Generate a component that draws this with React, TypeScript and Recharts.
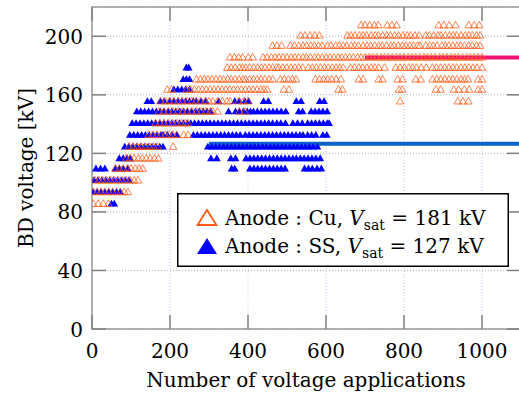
import React from 'react';
import {
  ScatterChart,
  Scatter,
  XAxis,
  YAxis,
  CartesianGrid,
  ReferenceLine,
  ReferenceArea,
  Legend,
} from 'recharts';

// ---- data ----
const xTicks = [0, 200, 400, 600, 800, 1000];
const yTicks = [0, 40, 80, 120, 160, 200];

// Anode Cu (orange hollow triangles): voltage levels and the application numbers at each level
const cuLevels = [208, 201, 194, 186, 179, 171, 164, 156, 149, 141, 133, 125, 117, 110, 102, 94, 86];
const cuXs: number[][] = [
  [690, 700, 712, 724, 734, 757, 769, 781, 889, 902, 916, 932, 966, 980, 993],
  [535, 546, 559, 571, 583, 655, 664, 674, 686, 695, 704, 716, 726, 734, 745, 756, 765, 776, 786, 797, 808, 817, 828, 839, 856, 865, 876, 887, 895, 906, 917, 926, 935, 946, 957, 966, 975, 986, 995],
  [463, 474, 486, 509, 519, 530, 541, 550, 561, 570, 581, 590, 604, 613, 625, 634, 644, 653, 665, 674, 683, 695, 705, 714, 725, 735, 744, 755, 766, 774, 785, 796, 805, 815, 824, 835, 841, 856, 866, 875, 885, 897, 906, 915, 925, 936, 945, 955, 966, 975, 986, 995],
  [354, 365, 376, 386, 401, 412, 439, 449, 460, 470, 479, 490, 500, 511, 520, 530, 541, 550, 560, 571, 580, 590, 601, 610, 620, 631, 640, 650, 660, 670, 681, 690, 700, 711, 720, 730, 741, 750, 760, 770, 781, 790, 800, 811, 820, 830, 840, 851, 860, 870, 880, 891, 900, 910, 921, 930, 940, 950, 961, 970, 980, 990, 1000],
  [347, 357, 367, 378, 386, 394, 404, 414, 425, 434, 444, 454, 463, 473, 479, 489, 499, 510, 520, 530, 540, 555, 565, 575, 586, 596, 606, 616, 626, 635, 644, 663, 673, 684, 694, 705, 716, 725, 735, 750, 779, 790, 801, 812, 822, 832, 844, 857, 873, 883, 894, 904, 915, 925, 935, 946, 956, 966, 977, 987, 1000],
  [268, 278, 288, 297, 307, 318, 328, 337, 348, 357, 367, 377, 387, 394, 404, 414, 424, 433, 443, 454, 463, 483, 493, 504, 514, 523, 573, 583, 594, 604, 614, 626, 638, 684, 695, 735, 745, 784, 796, 830, 843, 873, 884, 894, 905, 915, 925, 935, 946, 955, 964, 990, 1000],
  [193, 204, 243, 253, 263, 273, 283, 293, 303, 313, 323, 333, 343, 353, 363, 373, 383, 393, 403, 413, 423, 433, 441, 449, 492, 505, 632, 642, 787, 795, 882, 894, 928, 940, 955, 967, 990, 1000],
  [176, 188, 198, 210, 222, 232, 244, 256, 266, 278, 290, 300, 310, 322, 334, 346, 354, 376, 388, 400, 790, 938, 951, 965],
  [172, 184, 196, 208, 220, 232, 244, 256, 268, 280, 292, 303, 310, 322, 378, 392],
  [163, 174, 185, 196, 207, 218, 229, 239, 246],
  [145, 155, 166, 176, 188, 198, 208, 218, 235, 246],
  [95, 106, 116, 127, 137, 148, 158, 168, 208],
  [88, 98, 108, 119, 129, 139, 149, 160, 170],
  [60, 70, 80, 91, 100, 111, 121, 130],
  [8, 18, 28, 38, 48, 58, 68, 78, 88, 98, 108, 118],
  [3, 13, 23, 33, 43, 53, 63, 73, 83, 92],
  [3, 16, 29, 42],
];

// Anode SS (blue filled triangles)
const ssLevels = [179, 171, 164, 156, 149, 141, 133, 125, 117, 110, 102, 94, 86];
const ssXs: number[][] = [
  [242, 248],
  [234, 242, 250],
  [210, 220, 230, 240, 250],
  [142, 152, 175, 185, 200, 210, 220, 230, 240, 250, 260, 268, 280, 292, 325, 366, 378, 392, 402, 440, 452, 524, 536, 584, 595],
  [115, 125, 135, 145, 155, 165, 175, 185, 195, 205, 215, 225, 235, 245, 255, 265, 275, 285, 295, 305, 350, 368, 378, 388, 398, 406, 414, 424, 434, 444, 454, 464, 474, 485, 497, 530, 540, 562, 572, 582, 592, 603],
  [103, 113, 123, 133, 143, 153, 163, 174, 184, 194, 204, 214, 224, 234, 244, 253, 263, 273, 283, 293, 303, 313, 323, 333, 343, 353, 363, 373, 383, 393, 403, 413, 423, 433, 443, 453, 463, 474, 484, 496, 515, 527, 539, 553, 563, 573, 583, 593, 603, 608],
  [97, 107, 117, 127, 137, 147, 157, 167, 177, 182, 193, 205, 217, 260, 270, 280, 290, 300, 310, 320, 330, 340, 350, 360, 370, 380, 393, 403, 413, 423, 433, 443, 453, 463, 473, 483, 493, 503, 513, 523, 533, 541, 553, 563, 574, 592, 602],
  [84, 94, 104, 114, 124, 134, 144, 154, 164, 174, 182, 297, 307, 317, 327, 337, 347, 357, 367, 377, 387, 397, 407, 417, 427, 437, 447, 457, 467, 477, 487, 497, 507, 517, 527, 537, 547, 557, 567, 578],
  [70, 80, 90, 98, 305, 320, 356, 368, 395, 405, 415, 425, 435, 445, 455, 465, 475, 485, 495, 505, 515, 524, 534, 544, 554, 564, 574, 585],
  [10, 22, 33, 60, 70, 80, 92, 358, 366, 405, 415, 425, 435, 445, 455, 465, 475, 485, 495, 545, 555, 565, 577, 588],
  [5, 15, 25, 35, 45, 55, 65, 75, 85, 95],
  [3, 13, 23, 33, 43, 53, 63, 72],
  [50, 57],
];

// Saturation lines
const cuSat = { level: 185.5, from: 700, to: 1100, label: 181 };
const ssSat = { level: 126.5, from: 300, to: 1100, label: 127 };

const cuData = cuLevels.flatMap((y, i) => cuXs[i].map((x) => ({ x, y })));
const ssData = ssLevels.flatMap((y, i) => ssXs[i].map((x) => ({ x, y })));

// ---- style ----
const FONT = '"DejaVu Serif", serif';
const ORANGE = '#ff5a14';
const BLUE = '#0000ff';
const PINK = '#f2146e';
const LINEBLUE = '#0a64c8';
const TICK = '#808080';
const PLOT_TOP = 7;
const PLOT_BOTTOM = 329;
const PLOT_LEFT = 92;
const PLOT_RIGHT = 521;

const CuShape = (props: any) => {
  const { cx, cy } = props;
  if (cx == null || cy == null) return null;
  return (
    <path
      d={`M${cx},${cy - 3.3} L${cx + 3.8},${cy + 3.3} L${cx - 3.8},${cy + 3.3} Z`}
      fill="none"
      stroke={ORANGE}
      strokeOpacity={0.75}
      strokeWidth={1}
    />
  );
};

const SsShape = (props: any) => {
  const { cx, cy } = props;
  if (cx == null || cy == null) return null;
  return (
    <path
      d={`M${cx},${cy - 3.4} L${cx + 3.9},${cy + 3.4} L${cx - 3.9},${cy + 3.4} Z`}
      fill={BLUE}
      stroke="none"
    />
  );
};

const XTick = (props: any) => {
  const { x, payload } = props;
  return (
    <g>
      <line x1={x} x2={x} y1={PLOT_BOTTOM} y2={PLOT_BOTTOM - 14} stroke={TICK} strokeWidth={1.5} />
      <line x1={x} x2={x} y1={PLOT_TOP} y2={PLOT_TOP + 14} stroke={TICK} strokeWidth={1.5} />
      <text x={x} y={358} textAnchor="middle" fontFamily={FONT} fontSize={20} fill="#000">
        {payload.value}
      </text>
    </g>
  );
};

const YTick = (props: any) => {
  const { y, payload } = props;
  return (
    <g>
      <line x1={PLOT_LEFT} x2={PLOT_LEFT + 14} y1={y} y2={y} stroke={TICK} strokeWidth={1.5} />
      <line x1={PLOT_RIGHT} x2={PLOT_RIGHT - 14} y1={y} y2={y} stroke={TICK} strokeWidth={1.5} />
      <text x={83} y={y + 7.5} textAnchor="end" fontFamily={FONT} fontSize={20} fill="#000">
        {payload.value}
      </text>
    </g>
  );
};

const LegendBox = () => (
  <svg width={332} height={74} style={{ display: 'block' }}>
    <rect x={0.75} y={0.75} width={330.5} height={72.5} fill="#fff" stroke="#000" strokeWidth={1.5} />
    <path d="M30,17 L39.5,32 L20.5,32 Z" fill="none" stroke={ORANGE} strokeWidth={1.8} />
    <path d="M30,45 L40,61 L20,61 Z" fill={BLUE} />
    <text x={48} y={32} fontFamily={FONT} fontSize={20} fill="#000" style={{ whiteSpace: 'pre' }}>
      {'Anode : Cu, '}
      <tspan fontStyle="italic">V</tspan>
      <tspan fontSize={14} dy={5}>sat</tspan>
      <tspan dy={-5}>{` = ${cuSat.label} kV`}</tspan>
    </text>
    <text x={48} y={60} fontFamily={FONT} fontSize={20} fill="#000" style={{ whiteSpace: 'pre' }}>
      {'Anode : SS, '}
      <tspan fontStyle="italic">V</tspan>
      <tspan fontSize={14} dy={5}>sat</tspan>
      <tspan dy={-5}>{` = ${ssSat.label} kV`}</tspan>
    </text>
  </svg>
);

export default function App() {
  return (
    <div
      style={{
        position: 'absolute',
        left: 0,
        top: 0,
        width: 519,
        height: 398,
        overflow: 'hidden',
        background: '#fff',
      }}
    >
      <ScatterChart
        width={530}
        height={398}
        margin={{ top: 7, right: 9, bottom: 0, left: 0 }}
        style={{ fontFamily: FONT }}
      >
        <CartesianGrid
          horizontal={true}
          vertical={false}
          stroke="#b0b0b0"
          strokeDasharray="1 2"
        />
        <CartesianGrid
          horizontal={false}
          vertical={true}
          stroke="#c4c4ff"
          strokeDasharray="1 2"
        />
        <XAxis
          type="number"
          dataKey="x"
          domain={[0, 1100]}
          ticks={xTicks}
          interval={0}
          height={69}
          axisLine={false}
          tickLine={false}
          tickSize={0}
          tickMargin={0}
          tick={<XTick />}
          allowDataOverflow
          label={{
            content: () => (
              <text x={306} y={387} textAnchor="middle" fontFamily={FONT} fontSize={20} fill="#000">
                Number of voltage applications
              </text>
            ),
          }}
        />
        <YAxis
          type="number"
          dataKey="y"
          domain={[0, 220]}
          ticks={yTicks}
          interval={0}
          width={92}
          axisLine={false}
          tickLine={false}
          tickSize={0}
          tickMargin={0}
          tick={<YTick />}
          allowDataOverflow
          label={{
            content: () => (
              <text
                x={33}
                y={168}
                transform="rotate(-90 33 168)"
                textAnchor="middle"
                fontFamily={FONT}
                fontSize={20}
                fill="#000"
              >
                BD voltage [kV]
              </text>
            ),
          }}
        />
        <Scatter data={ssData} shape={SsShape} isAnimationActive={false} />
        <Scatter data={cuData} shape={CuShape} isAnimationActive={false} />
        <ReferenceLine
          segment={[
            { x: ssSat.from, y: ssSat.level },
            { x: ssSat.to, y: ssSat.level },
          ]}
          stroke={LINEBLUE}
          strokeWidth={4}
        />
        <ReferenceLine
          segment={[
            { x: cuSat.from, y: cuSat.level },
            { x: cuSat.to, y: cuSat.level },
          ]}
          stroke={PINK}
          strokeWidth={4}
        />
        <ReferenceArea x1={0} x2={1100} y1={0} y2={220} fill="none" stroke="#999" strokeWidth={1.5} />
        <Legend
          layout="horizontal"
          verticalAlign="middle"
          align="center"
          content={() => <LegendBox />}
          wrapperStyle={{ left: 177, top: 193, width: 332, height: 74 }}
        />
      </ScatterChart>
    </div>
  );
}
